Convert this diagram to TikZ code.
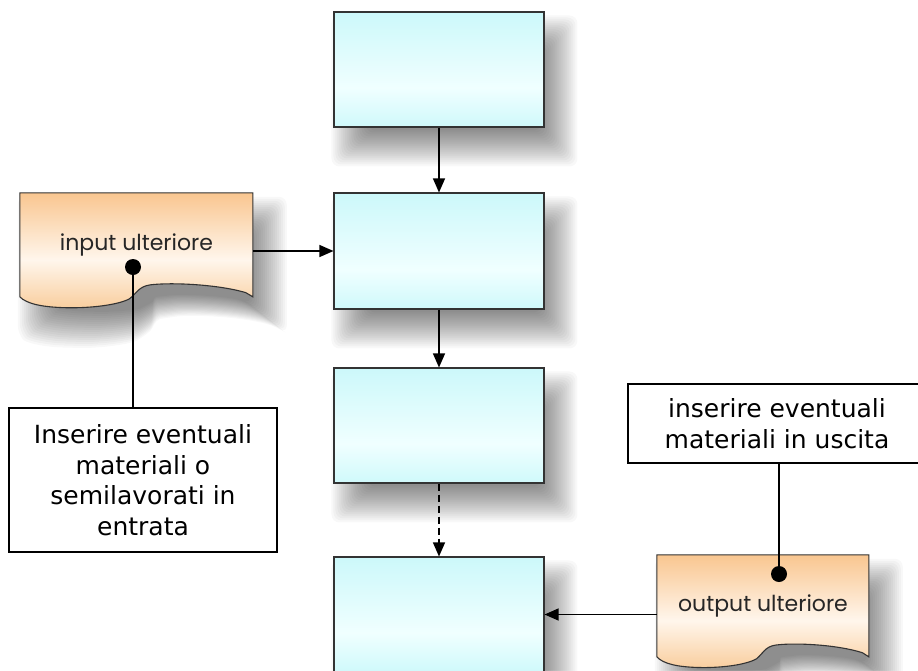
\documentclass[tikz,border=0pt]{standalone}
\usepackage{fontspec}
\newfontfamily\docfont{Poppins}
\newfontfamily\notefont{DejaVu Sans}
\usetikzlibrary{arrows.meta}

\pgfdeclarelayer{background}
\pgfsetlayers{background,main}

\definecolor{stepTop}{HTML}{CCF8FA}
\definecolor{stepMid}{HTML}{F0FFFF}
\definecolor{stepBot}{HTML}{CFF9FB}
\definecolor{docTop}{HTML}{F9C690}
\definecolor{docMid}{HTML}{FFF6EC}
\definecolor{docBot}{HTML}{F9CE9E}
\definecolor{edge}{HTML}{333333}

% vertical shadings: 25bp = bottom of the shape, 75bp = top
\pgfdeclareverticalshading{stepshade}{100bp}{color(0bp)=(stepBot); color(25bp)=(stepBot); color(42bp)=(stepMid); color(75bp)=(stepTop); color(100bp)=(stepTop)}
\pgfdeclareverticalshading{docshade}{100bp}{color(0bp)=(docBot); color(25bp)=(docBot); color(46bp)=(docMid); color(75bp)=(docTop); color(100bp)=(docTop)}

\tikzset{
  stepbox/.style={draw=edge, line width=1.1pt, shading=stepshade, minimum width=210pt, minimum height=115pt, inner sep=0pt},
  docbody/.style={draw=edge, line width=1.1pt, shading=docshade},
  doctext/.style={font=\docfont\fontsize{22}{26}\selectfont, text=black!85, inner sep=0pt},
  note/.style={draw=black, line width=1.3pt, fill=white, align=center, inner sep=0pt,
    font=\notefont\fontsize{25}{30.5}\selectfont},
  conn/.style={line width=1.3pt, -{Triangle[length=14pt,width=12pt]}},
  pin/.style={line width=1.3pt},
  dot/.style={circle, fill=black, inner sep=0pt, minimum size=16pt},
  % outlines in unit coordinates (x = width, y = height, downwards)
  rectunit/.style={insert path={(0,0) rectangle (1,1)}},
  docunit/.style={insert path={(0,0) -- (1,0) -- (1,1) -- (0.97,0.96)
      .. controls (0.85,0.88) and (0.65,0.86) .. (0.56,0.885)
      .. controls (0.51,0.9) and (0.5,0.97) .. (0.47,1.02)
      .. controls (0.42,1.08) and (0.3,1.11) .. (0.2,1.105)
      .. controls (0.1,1.1) and (0.03,1.07) .. (0,1.0) -- cycle}},
}

% soft drop shadow: stacked translucent copies of the outline, grown and shrunk
% #1 node, #2 width, #3 unit height, #4 vertical extent (in units), #5 outline style
\newcommand\softshadow[5]{%
  \begin{pgfonlayer}{background}
    \foreach \k in {0,...,18}{%
      \pgfmathsetmacro\e{18-2*\k}%
      \pgfmathsetmacro\sx{#2+2*\e}%
      \pgfmathsetmacro\sy{(#3*#4+2*\e)/#4}%
      \fill[black, opacity=0.026, rounded corners=8pt, shift={(#1.north west)}, shift={(16-\e,22-\e)},
        x=\sx pt, y=-\sy pt, #5];
    }
  \end{pgfonlayer}}

% document symbol (wavy bottom) drawn behind a text node
\newcommand\docoutline[3]{%
  \softshadow{#1}{#2}{#3}{1.105}{docunit}
  \begin{pgfonlayer}{background}
    \path[docbody, shift={(#1.north west)}, x=#2pt, y=-#3pt, docunit];
  \end{pgfonlayer}}

\begin{document}
\begin{tikzpicture}[x=1pt,y=-1pt]
  \begin{pgfonlayer}{background}
    \fill[white] (0,0) rectangle (918,670);
  \end{pgfonlayer}
  \useasboundingbox (0,0) rectangle (918,670);
  \clip (0,0) rectangle (918,670);

  % process steps
  \node[stepbox] (b1) at (439,69.5) {};
  \node[stepbox, minimum height=116pt] (b2) at (439,251) {};
  \node[stepbox] (b3) at (439,425.5) {};
  \node[stepbox] (b4) at (439,614.5) {};
  \softshadow{b1}{210}{115}{1}{rectunit}
  \softshadow{b2}{210}{116}{1}{rectunit}
  \softshadow{b3}{210}{115}{1}{rectunit}
  \softshadow{b4}{210}{115}{1}{rectunit}

  % extra input / output documents
  \node[doctext, minimum width=233pt, minimum height=104pt] (inp) at (136.5,245) {input ulteriore};
  \node[doctext, minimum width=212pt, minimum height=102pt] (outp) at (763,606) {output ulteriore};
  \docoutline{inp}{233}{104}
  \docoutline{outp}{212}{102}

  % flow
  \draw[conn] (b1) -- (b2);
  \draw[conn] (b2) -- (b3);
  \draw[conn, dash pattern=on 7pt off 4pt] (b3) -- (b4);
  \draw[conn] (b2.west -| inp.east) -- (b2.west);
  \draw[conn] (b4.east -| outp.west) -- (b4.east);

  % notes
  \node[note, minimum width=268pt, minimum height=144pt] (n1) at (143,480)
    {Inserire eventuali\\materiali o\\semilavorati in\\entrata};
  \node[note, minimum width=298pt, minimum height=79pt] (n2) at (777,423.5)
    {inserire eventuali\\materiali in uscita};

  \node[dot] (d1) at (133,267) {};
  \node[dot] (d2) at (779,574) {};
  \draw[pin] (n1.north -| d1.center) -- (d1.center);
  \draw[pin] (n2.south -| d2.center) -- (d2.center);
\end{tikzpicture}
\end{document}
